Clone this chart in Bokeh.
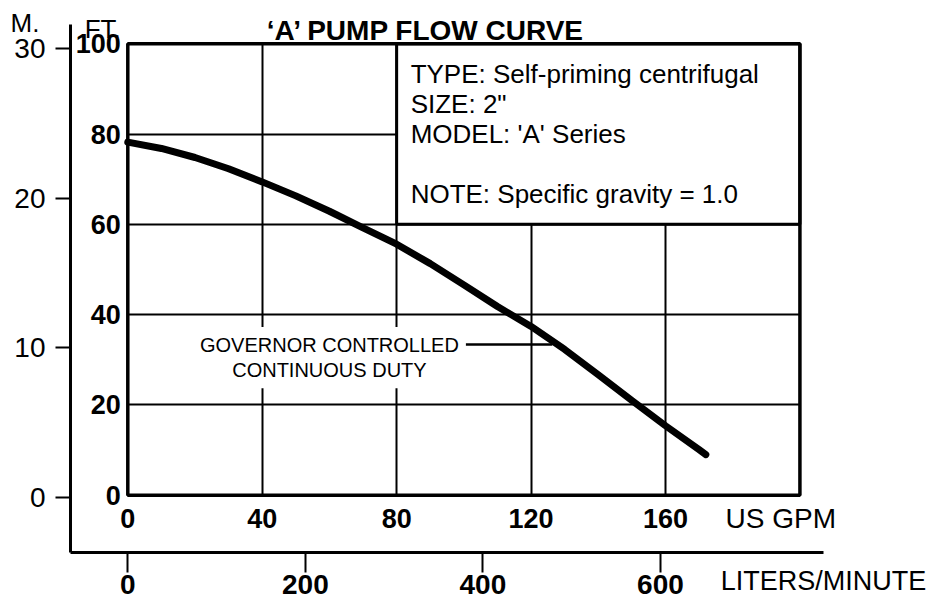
from bokeh.plotting import figure
from bokeh.models import Range1d, LinearAxis, FixedTicker, Grid, Label
from bokeh.core.properties import value
from bokeh.embed import file_html
from bokeh.resources import INLINE

# ---------------- data ----------------
gpm = [0, 10, 20, 30, 40, 50, 60, 70, 80, 90, 100, 110, 120, 130, 140, 150, 160, 170, 172]
head_ft = [78.2, 76.8, 74.8, 72.3, 69.4, 66.3, 62.9, 59.2, 55.6, 51.3, 46.6, 41.8, 37.4,
           32.3, 26.7, 21.0, 15.4, 10.1, 9.0]
gpm_ticks = [0, 40, 80, 120, 160]
ft_ticks = [0, 20, 40, 60, 80, 100]
m_ticks = [0, 10, 20, 30]
lpm_ticks = [0, 200, 400, 600]
gpm_max = 200
ft_max = 100
info_box = dict(left=80, right=200, bottom=60, top=100)
info_lines = ["TYPE: Self-priming centrifugal", 'SIZE: 2"', "MODEL: 'A' Series", "",
              "NOTE: Specific gravity = 1.0"]
title_text = "\u2018A\u2019 PUMP FLOW CURVE"
curve_label = "GOVERNOR CONTROLLED\nCONTINUOUS DUTY"
m_unit = "M."
ft_unit = "FT."
gpm_unit = "US GPM"
lpm_unit = "LITERS/MINUTE"
GAL_TO_L = 3.78541

# ---------------- layout (pixels) ----------------
W, H = 930, 605
FL, FB, FT_, FR = 70, 53, 0, 107        # borders around the frame
FW, FH = W - FL - FR, H - FB - FT_
PX_GPM = 3.3606                          # px per GPM
X0 = 57.3                                # px from frame left to 0 GPM
PX_FT = 4.516                            # px per ft
Y0 = 57.2                                # px from frame bottom to 0 ft
PX_M = 14.987                            # px per metre
YM0 = 54.7                               # px from frame bottom to 0 m
M_LINE_TOP = 24                          # px from top where the metre line starts
GPM_LABEL_DY = 23                        # px below the chart box for GPM labels
GPM_UNIT_X = 725                         # px (canvas) where "US GPM" starts

x_rng = Range1d(-X0 / PX_GPM, (FW - X0) / PX_GPM)
y_rng = Range1d(-Y0 / PX_FT, (FH - Y0) / PX_FT)

FONT = "Liberation Sans"

p = figure(width=W, height=H, x_range=x_rng, y_range=y_rng,
           x_axis_type=None, y_axis_type=None, toolbar_location=None,
           output_backend="svg", min_border=0,
           min_border_left=FL, min_border_right=FR, min_border_top=FT_, min_border_bottom=FB)
p.outline_line_color = None
p.background_fill_color = "white"
p.border_fill_color = "white"


def plain_axis(ax):
    ax.major_tick_in = 0
    ax.minor_tick_out = 0
    ax.minor_tick_in = 0
    ax.major_label_text_font = FONT
    ax.major_label_text_color = "black"
    ax.axis_label_text_font = FONT
    ax.axis_label_text_font_style = "normal"
    ax.axis_label_text_color = "black"


# metres axis (left)
p.extra_y_ranges = {"m": Range1d(-YM0 / PX_M, (FH - YM0) / PX_M)}
ax_m = LinearAxis(y_range_name="m", ticker=FixedTicker(ticks=m_ticks),
                  bounds=(-YM0 / PX_M, (FH - YM0 - M_LINE_TOP) / PX_M))
plain_axis(ax_m)
ax_m.axis_line_width = 3
ax_m.axis_line_color = "black"
ax_m.major_tick_out = 15
ax_m.major_tick_line_width = 2
ax_m.major_label_standoff = 10
ax_m.major_label_text_font_size = "28px"
ax_m.axis_label = "\n" + m_unit
ax_m.axis_label_orientation = "horizontal"
ax_m.axis_label_align = "end"
ax_m.axis_label_standoff = -28
ax_m.axis_label_text_font_size = "26px"
ax_m.axis_label_text_line_height = 1.5
p.add_layout(ax_m, "left")

# litres/minute axis (below)
p.extra_x_ranges = {"lpm": Range1d(x_rng.start * GAL_TO_L, x_rng.end * GAL_TO_L)}
ax_l = LinearAxis(x_range_name="lpm", ticker=FixedTicker(ticks=lpm_ticks))
plain_axis(ax_l)
ax_l.axis_line_width = 3
ax_l.axis_line_color = "black"
ax_l.major_tick_out = 20
ax_l.major_tick_line_width = 2
ax_l.major_label_standoff = 2
ax_l.major_label_text_font_style = "bold"
ax_l.major_label_text_font_size = "28px"
ax_l.axis_label = lpm_unit
ax_l.axis_label_align = "end"
ax_l.axis_label_standoff = -31
ax_l.axis_label_text_font_size = "27px"
p.add_layout(ax_l, "below")

# "US GPM" unit name, set as the single label of an unlined right-hand axis
unit_y = -GPM_LABEL_DY / PX_FT
ax_u = LinearAxis(ticker=FixedTicker(ticks=[unit_y]),
                  major_label_overrides={unit_y: gpm_unit})
plain_axis(ax_u)
ax_u.axis_line_color = None
ax_u.major_tick_out = 0
ax_u.major_tick_line_color = None
ax_u.major_label_standoff = GPM_UNIT_X - (FL + FW)
ax_u.major_label_text_font_size = "28px"
p.add_layout(ax_u, "right")

# grid lines inside the chart box
p.add_layout(Grid(dimension=0, ticker=FixedTicker(ticks=gpm_ticks[1:]),
                  cross_bounds=(0, ft_max), grid_line_color="black", grid_line_width=2))
p.add_layout(Grid(dimension=1, ticker=FixedTicker(ticks=ft_ticks[1:-1]),
                  cross_bounds=(0, gpm_max), grid_line_color="black", grid_line_width=2))

# info box
p.quad(left=[info_box["left"]], right=[info_box["right"]],
       bottom=[info_box["bottom"]], top=[info_box["top"]],
       fill_color="white", line_color="black", line_width=3)
line_gap = 30 / PX_FT
first_y = info_box["top"] - 30 / PX_FT
p.text(x=[info_box["left"]] * len(info_lines),
       y=[first_y - i * line_gap for i in range(len(info_lines))],
       text=info_lines, x_offset=14, text_align="left", text_baseline="middle",
       text_font=value(FONT), text_font_size="26px", text_color="black")

# chart frame
p.quad(left=[0], right=[gpm_max], bottom=[0], top=[ft_max],
       fill_color=None, line_color="black", line_width=3.5)

# pump curve
p.line(gpm, head_ft, line_width=7, line_color="black", line_cap="round")

# curve annotation
p.segment(x0=[100], y0=[33.4], x1=[126.3], y1=[33.4], line_width=2.5, line_color="black")
p.add_layout(Label(x=60, y=30.5, text=curve_label, text_align="center",
                   text_baseline="middle", text_font=FONT, text_font_size="20px",
                   text_color="black", background_fill_color="white", padding=7,
                   text_line_height=1.15))

# ft tick labels (left of chart box)
p.text(x=[0] * len(ft_ticks), y=ft_ticks, text=[str(t) for t in ft_ticks],
       x_offset=-7, text_align="right", text_baseline="middle",
       text_font=value(FONT), text_font_style="bold", text_font_size="27px", text_color="black")
# GPM tick labels (below chart box)
p.text(x=gpm_ticks, y=[0] * len(gpm_ticks), text=[str(t) for t in gpm_ticks],
       y_offset=GPM_LABEL_DY, text_align="center", text_baseline="middle",
       text_font=value(FONT), text_font_style="bold", text_font_size="27px", text_color="black")

# title and unit header
p.text(x=[88.7], y=[102.9], text=[title_text], text_align="center",
       text_baseline="alphabetic", text_font=value(FONT), text_font_style="bold",
       text_font_size="28px", text_color="black")
p.text(x=[0], y=[103.3], text=[ft_unit], x_offset=-7, text_align="right",
       text_baseline="alphabetic", text_font=value(FONT),
       text_font_size="26px", text_color="black")

open("out.html", "w").write(file_html(p, INLINE))
